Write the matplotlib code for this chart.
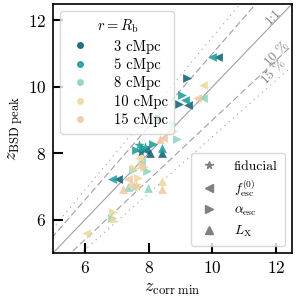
import numpy as np
import matplotlib
matplotlib.use('Agg')
from matplotlib import pyplot as plt
from matplotlib.lines import Line2D

plt.rcParams['font.family'] = 'serif'
plt.rcParams['font.serif'] = ['cmr10']
plt.rcParams['mathtext.fontset'] = 'cm'
plt.rcParams['axes.formatter.use_mathtext'] = True

# Raios de suavizacao e cores
raios = ['3', '5', '8', '10', '15']
cores = ['#0b5d70', '#17999a', '#8ad4bb', '#ecd79c', '#f2c8a4']

# Marcadores de cada parametro variado
marcadores = ['*', '<', '>', '^']
nomes = ['fiducial', r'$f_\mathrm{esc}^{(0)}$', r'$\alpha_\mathrm{esc}$', r'$L_\mathrm{X}$']

# Pontos (z_corr_min, z_BSD_peak) por raio e por marcador
r3_x = [[7.75], [7.05, 10.17, 9.25, 7.9], [9.19, 8.34, 8.95], [8.43, 8.05]]
r3_y = [[8.05], [7.24, 10.9, 9.45, 8.1], [10.28, 9.06, 9.5], [8.0, 8.0]]

r5_x = [[7.9, 7.7], [6.86, 10.0, 9.15], [8.15, 9.05, 7.6], [8.43, 7.75]]
r5_y = [[8.2, 8.25], [7.24, 10.9, 9.6], [8.28, 9.75, 8.1], [8.16, 8.2]]

r8_x = [[7.55], [9.72, 7.75], [8.75, 8.9, 7.96, 7.52, 6.86], [7.99, 7.35]]
r8_y = [[7.0], [9.66, 7.75], [8.88, 8.43, 7.48, 7.5, 6.05], [6.97, 7.0]]

r10_x = [[7.65], [9.72, 6.04, 7.7], [8.75, 7.68, 6.89, 7.55, 7.8], [8.43, 7.45, 6.86]]
r10_y = [[7.0], [10.07, 5.6, 7.85], [8.67, 7.27, 6.22, 7.55, 7.65], [7.18, 7.1, 6.05]]

r15_x = [[7.6], [9.53, 8.46, 7.36], [7.85], [8.43, 7.2, 8.37]]
r15_y = [[7.05], [9.66, 8.46, 7.24], [7.6], [6.94, 6.94, 8.43]]

todos_x = [r3_x, r5_x, r8_x, r10_x, r15_x]
todos_y = [r3_y, r5_y, r8_y, r10_y, r15_y]

fig = plt.figure(figsize=(2.98, 2.98), dpi=100)
ax = fig.add_axes([0.178, 0.151, 0.802, 0.836])

# Linhas de referencia: 1:1, 10% e 15%
z = np.array([0.0, 20.0])
ax.plot(z, z, '-', color='#a0a0a0', lw=0.8, zorder=1)
for p, ls in [(0.10, (0, (6, 3))), (0.15, (0, (1, 4)))]:
    ax.plot(z, z * (1 + p), ls=ls, color='#a0a0a0', lw=0.8, zorder=1)
    ax.plot(z, z * (1 - p), ls=ls, color='#a0a0a0', lw=0.8, zorder=1)

ax.text(11.92, 12.1, '1:1', rotation=46, color='#808080', fontsize=9.5, ha='center', va='center')
ax.text(12.05, 11.0, '10 %', rotation=46, color='#808080', fontsize=9.5, ha='center', va='center')
ax.text(11.93, 10.45, '15 %', rotation=46, color='#808080', fontsize=9.5, ha='center', va='center')

# Desenha os pontos
for i in range(len(raios)):
    for j in range(len(marcadores)):
        tam = 60 if marcadores[j] == '*' else 40
        ax.scatter(todos_x[i][j], todos_y[i][j], marker=marcadores[j], s=tam,
                   color=cores[i], alpha=0.85, linewidths=0, zorder=2)

ax.set_xlim(5, 12.5)
ax.set_ylim(5, 12.5)
ax.set_xticks([6, 8, 10, 12])
ax.set_yticks([6, 8, 10, 12])
ax.tick_params(direction='in', length=7, width=1.5, labelsize=12.5, pad=5)
for s in ax.spines.values():
    s.set_linewidth(1.2)

ax.set_xlabel(r'$z_\mathrm{corr\ min}$', fontsize=13)
ax.set_ylabel(r'$z_\mathrm{BSD\ peak}$', fontsize=13, labelpad=2)

# Legenda das cores
h1 = [Line2D([], [], marker='o', ls='', color=cores[i], alpha=0.85, markersize=4)
      for i in range(len(raios))]
leg1 = ax.legend(h1, [r + ' cMpc' for r in raios], loc='upper left', title=r'$r = R_\mathrm{b}$',
                 fontsize=10.5, title_fontsize=10.5, handletextpad=1.4, labelspacing=0.3,
                 borderpad=0.45, handlelength=1.8, edgecolor='#d0d0d0')
ax.add_artist(leg1)

# Legenda dos marcadores
h2 = [Line2D([], [], marker=m, ls='', color='#808080', markersize=5.5) for m in marcadores]
ax.legend(h2, nomes, loc='lower right', fontsize=9.8, handletextpad=1.0, labelspacing=0.4,
          borderpad=0.55, handlelength=1.6, edgecolor='#d0d0d0')

plt.savefig('out.png', dpi=100)
